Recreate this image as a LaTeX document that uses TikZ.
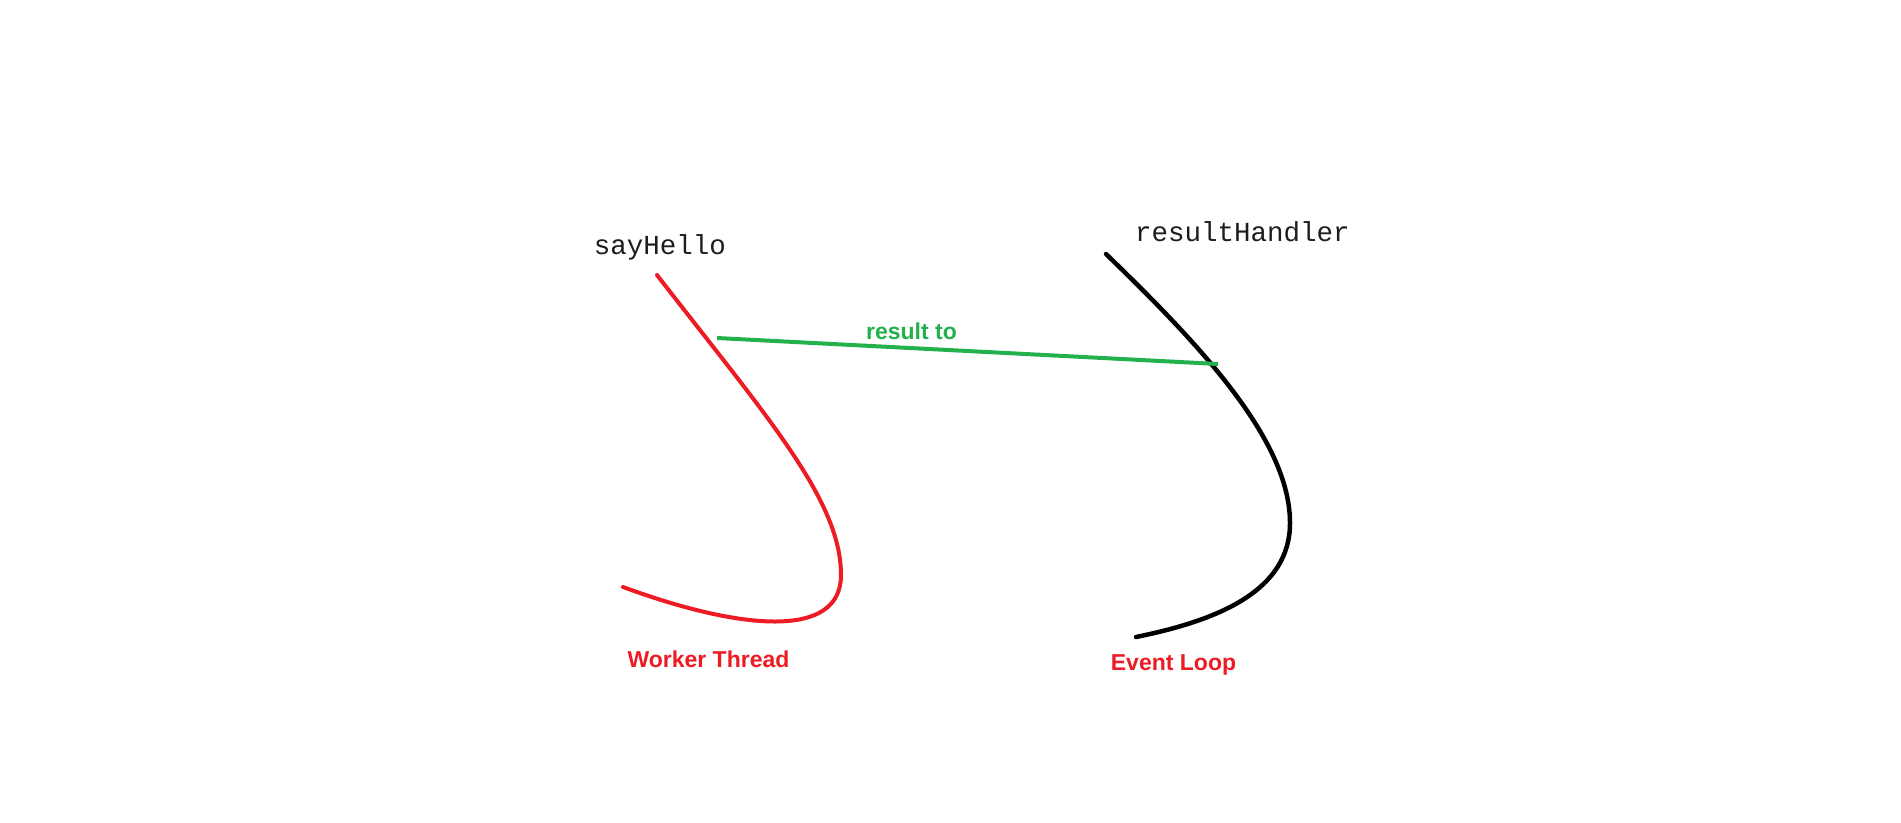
\documentclass[tikz,border=0pt]{standalone}
\usepackage{fontspec}
\setmainfont{Liberation Sans}
\setmonofont{Liberation Mono}
\definecolor{paintred}{RGB}{237,28,36}
\definecolor{paintgreen}{RGB}{34,177,76}
\definecolor{codegray}{RGB}{30,30,30}

\begin{document}
\begin{tikzpicture}[x=10pt,y=10pt]
\tikzstyle{every node}+=[inner sep=0pt]
\tikzstyle{fname}=[anchor=base, text=codegray, font=\fontsize{27.5}{30}\selectfont\ttfamily]
\tikzstyle{tlabel}=[anchor=base, text=paintred, font=\fontsize{23}{26}\selectfont\bfseries]
\tikzstyle{thread}=[line width=4pt, line cap=round]
\useasboundingbox (0,0) rectangle (190.1,-82.2);
\fill [white] (0,0) rectangle (190.1,-82.2);
% worker thread
\coordinate (w0) at (65.7,-27.5);
\coordinate (w1) at (84.1,-57.5);
\coordinate (w2) at (62.3,-58.7);
\draw [paintred, thread] (w0) .. controls (76.7,-41.7) and (84.1,-50) .. (w1)
  .. controls (84.1,-64) and (74,-63) .. (w2);
% event loop
\coordinate (e0) at (110.6,-25.4);
\coordinate (e1) at (129,-52.3);
\coordinate (e2) at (113.6,-63.7);
\draw [black, thread, line width=4.5pt] (e0) .. controls (120,-34.5) and (129,-44) .. (e1)
  .. controls (129,-59) and (122,-62) .. (e2);
% result
\coordinate (r0) at (71.7,-33.8);
\coordinate (r1) at (121.8,-36.4);
\draw [paintgreen, line width=4pt] (r0) -- (r1);
\node [tlabel, text=paintgreen] (res) at (91.15,-33.9) {result to};
\node [fname] (say) at (66,-25.4) {sayHello};
\node [fname] (rh) at (124.25,-24.1) {resultHandler};
\node [tlabel] (wt) at (70.85,-66.7) {Worker Thread};
\node [tlabel] (el) at (117.35,-67.0) {Event Loop};
\end{tikzpicture}
\end{document}
